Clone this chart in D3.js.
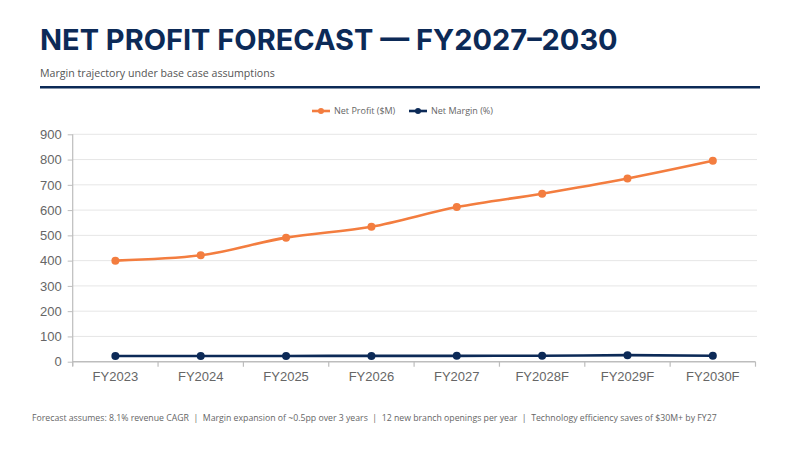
<!DOCTYPE html>
<html><head><meta charset="utf-8">
<script src="https://cdn.jsdelivr.net/npm/d3@7"></script>
<style>
html,body{margin:0;padding:0;background:#fff;}
svg{display:block;}
</style>
</head><body>
<svg id="chart" width="800" height="450"></svg>
<script>
const categories = ["FY2023","FY2024","FY2025","FY2026","FY2027","FY2028F","FY2029F","FY2030F"];
const netProfit = [400, 421, 491, 534, 612, 665, 725, 795];
const netMargin = [22.5, 22.6, 22.8, 23.0, 23.2, 23.4, 25.9, 23.6];
const yTicks = [0,100,200,300,400,500,600,700,800,900];
const seriesNames = ["Net Profit ($M)", "Net Margin (%)"];
const titleText = "NET PROFIT FORECAST \u2014 FY2027\u20132030";
const subtitleText = "Margin trajectory under base case assumptions";
const footerText = "Forecast assumes: 8.1% revenue CAGR  |  Margin expansion of ~0.5pp over 3 years  |  12 new branch openings per year  |  Technology efficiency saves of $30M+ by FY27";

const NAVY = "#0c2a57", ORANGE = "#f37d3f";
const svg = d3.select("#chart");

function fitText(sel, target){
  const w = sel.node().getComputedTextLength();
  const fs = parseFloat(sel.attr("font-size"));
  sel.attr("font-size", fs*target/w);
}

// Title
svg.append("text").attr("x",40).attr("y",50)
  .attr("font-family","Inter, Roboto, sans-serif").attr("font-weight",700)
  .attr("font-size",29).attr("fill",NAVY).text(titleText)
  .call(s=>fitText(s,578));
svg.append("text").attr("x",40).attr("y",77)
  .attr("font-family","'Open Sans', sans-serif")
  .attr("font-size",10.5).attr("fill","#555").text(subtitleText)
  .call(s=>fitText(s,235));
svg.append("rect").attr("x",40).attr("y",86).attr("width",720).attr("height",2.5).attr("fill",NAVY);

// Scales
const x = d3.scaleBand().domain(categories).range([72.7,755.5]);
const y = d3.scaleLinear().domain([0,900]).range([361.7,134.3]);
const cx = d => x(d)+x.bandwidth()/2;

const g = svg.append("g");
// gridlines
g.append("g").selectAll("line").data(yTicks.slice(1)).join("line")
  .attr("x1",72.7).attr("x2",757).attr("y1",d=>y(d)).attr("y2",d=>y(d))
  .attr("stroke","#e6e6e6").attr("stroke-width",1);

// y axis
const yAxis = d3.axisLeft(y).tickValues(yTicks).tickSize(5).tickPadding(6);
const ya = g.append("g").attr("transform","translate(72.7,0)").call(yAxis);
ya.select(".domain").attr("stroke","#bdbdbd").attr("stroke-width",1.2).attr("d","M0,134.3V366");
ya.selectAll(".tick line").attr("stroke","#bdbdbd");
ya.selectAll("text").attr("font-family","'Liberation Sans', Arial, sans-serif").attr("font-size",13).attr("fill","#666");

// x axis
const xAxis = d3.axisBottom(x).tickSize(0).tickPadding(10);
const xa = g.append("g").attr("transform","translate(0,361.7)").call(xAxis);
xa.select(".domain").attr("stroke","#bdbdbd").attr("stroke-width",1.5).attr("d","M72.7,0H755.5");
xa.selectAll("text").attr("font-family","'Liberation Sans', Arial, sans-serif").attr("font-size",13).attr("fill","#666");
xa.append("g").selectAll("line").data(categories.concat([null])).join("line")
  .attr("x1",(d,i)=>72.7+i*x.bandwidth()).attr("x2",(d,i)=>72.7+i*x.bandwidth())
  .attr("y1",0).attr("y2",5).attr("stroke","#bdbdbd").attr("stroke-width",1.2);

// lines
const line = d3.line().x((d,i)=>cx(categories[i])).y(d=>y(d)).curve(d3.curveMonotoneX);
const series = [{vals:netProfit,color:ORANGE},{vals:netMargin,color:NAVY}];
series.forEach(s=>{
  g.append("path").datum(s.vals).attr("d",line).attr("fill","none")
    .attr("stroke",s.color).attr("stroke-width",2.6);
  g.append("g").selectAll("circle").data(s.vals).join("circle")
    .attr("cx",(d,i)=>cx(categories[i])).attr("cy",d=>y(d)).attr("r",4).attr("fill",s.color);
});

// legend
const leg = svg.append("g");
const legItems = [{name:seriesNames[0],color:ORANGE,x:312},{name:seriesNames[1],color:NAVY,x:409}];
legItems.forEach(l=>{
  leg.append("line").attr("x1",l.x).attr("x2",l.x+18).attr("y1",111).attr("y2",111)
    .attr("stroke",l.color).attr("stroke-width",2.6);
  leg.append("circle").attr("cx",l.x+9).attr("cy",111).attr("r",3).attr("fill",l.color);
  leg.append("text").attr("x",l.x+22).attr("y",114.2).attr("font-family","'Open Sans', sans-serif")
    .attr("font-size",9).attr("fill","#666").text(l.name);
});

// footer
svg.append("text").attr("x",32).attr("y",421)
  .attr("font-family","'Open Sans', sans-serif").attr("font-size",9).attr("fill","#666")
  .attr("xml:space","preserve").style("white-space","pre").text(footerText)
  .call(s=>fitText(s,685));
</script>
</body></html>
